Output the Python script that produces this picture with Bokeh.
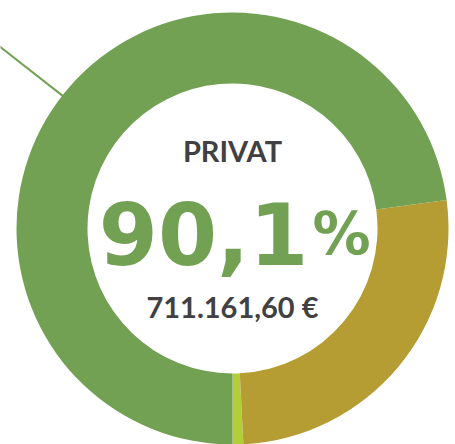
import math
from bokeh.plotting import figure
from bokeh.models import Range1d, ColumnDataSource
from bokeh.core.properties import value
from bokeh.embed import file_html
from bokeh.resources import INLINE

# data (shares of the ring)
categories = ["Sonstige", "Öffentlich", "Privat"]
shares = [0.8, 26.3, 72.9]
colors = ["#B3CF38", "#B59D34", "#72A153"]
title_label = "PRIVAT"
big_value = "90,1"
big_unit = "%"
amount_label = "711.161,60 €"

# geometry (pixel-like data units, y measured upward from the bottom)
H = 444
CX, CY = 232, H - 228
R_OUT, R_IN = 216, 145
LEADER_ANGLE = math.radians(142)

p = figure(width=455, height=444, output_backend="svg", toolbar_location=None,
           x_range=Range1d(0, 455), y_range=Range1d(0, H), min_border=0)
p.axis.visible = False
p.grid.visible = False
p.outline_line_color = None
p.background_fill_color = "white"
p.border_fill_color = "white"

total = sum(shares)
starts, ends = [], []
a = -math.pi / 2
for s in shares:
    starts.append(a)
    a += 2 * math.pi * s / total
    ends.append(a)

src = ColumnDataSource(dict(cat=categories, share=shares, color=colors,
                            start=starts, end=ends,
                            x=[CX] * len(shares), y=[CY] * len(shares)))
p.annular_wedge(x="x", y="y", inner_radius=R_IN, outer_radius=R_OUT,
                start_angle="start", end_angle="end", color="color",
                line_color=None, source=src)

# leader line
r0, r1 = R_OUT - 1, R_OUT + 100
p.line([CX + r0 * math.cos(LEADER_ANGLE), CX + r1 * math.cos(LEADER_ANGLE)],
       [CY + r0 * math.sin(LEADER_ANGLE), CY + r1 * math.sin(LEADER_ANGLE)],
       line_color="#72A153", line_width=2)

p.text(x=[CX], y=[H - 150], text=[title_label], text_align="center",
       text_baseline="alphabetic", text_font=value("Lato"), text_font_style="bold",
       text_font_size="29px", text_color="#414042")
p.text(x=[308], y=[H - 233], text=[big_value], text_align="right",
       text_baseline="alphabetic", text_font=value("DejaVu Sans"), text_font_style="bold",
       text_font_size="85px", text_color="#72A153")
p.text(x=[312], y=[H - 233], text=[big_unit], text_align="left",
       text_baseline="alphabetic", text_font=value("DejaVu Sans"), text_font_style="bold",
       text_font_size="58px", text_color="#72A153")
p.text(x=[CX], y=[H - 306], text=[amount_label], text_align="center",
       text_baseline="alphabetic", text_font=value("Lato"), text_font_style="bold",
       text_font_size="29px", text_color="#414042")

open("out.html", "w").write(file_html(p, INLINE))
